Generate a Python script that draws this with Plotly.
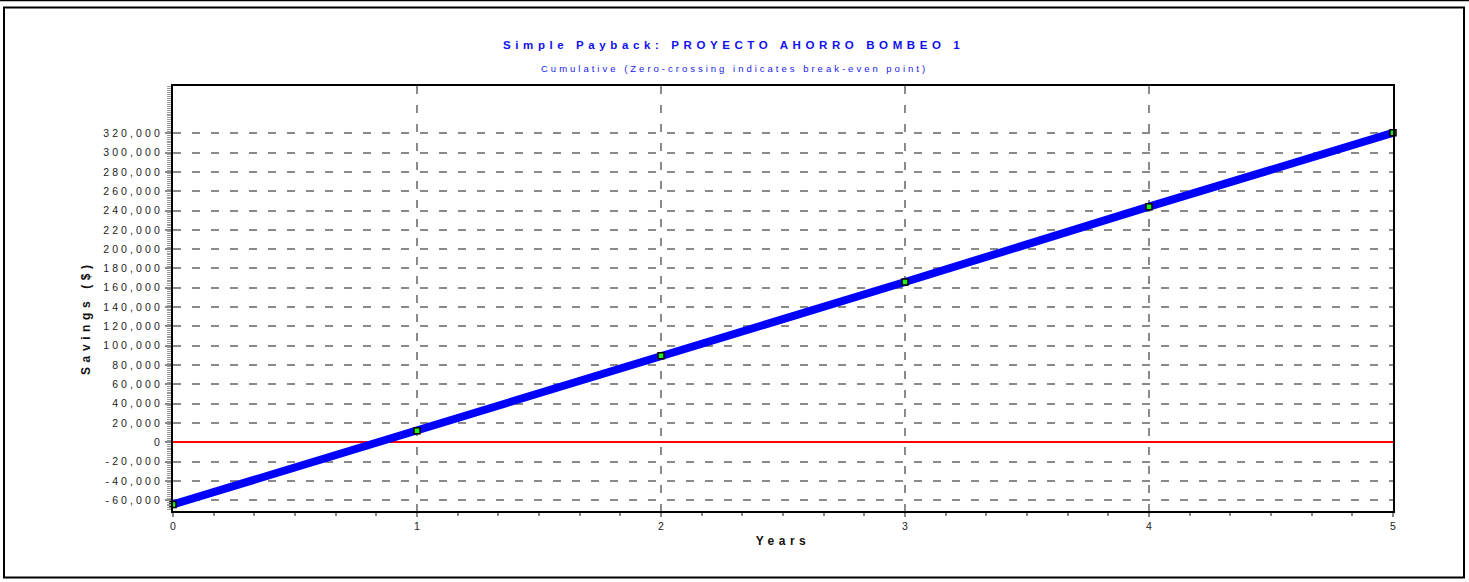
import plotly.graph_objects as go

# Cumulative simple-payback data
years = [0, 1, 2, 3, 4, 5]
cumulative_savings = [-64500, 12000, 89500, 166000, 244000, 320500]

y_tick_values = list(range(-60000, 320001, 20000))
y_tick_labels = [f"{v:,}" for v in y_tick_values]
x_tick_values = [0, 1, 2, 3, 4, 5]
x_tick_labels = ["0", "1", "2", "3", "4", "5"]

title_text = "Simple Payback: PROYECTO AHORRO BOMBEO 1"
subtitle_text = "Cumulative (Zero-crossing indicates break-even point)"
x_title = "Years"
y_title = "Savings ($)"

W, H = 1469, 582
L, R, T, B = 173, 76, 86, 71
PW, PH = W - L - R, H - T - B


def px_x(px):
    return (px - L) / PW


def px_y(py):
    return (H - B - py) / PH


def spaced(text, ls):
    return f'<span style="letter-spacing:{ls}px">{text}</span>'


FONT = "Liberation Sans, Arial, sans-serif"

fig = go.Figure()

fig.add_trace(go.Scatter(
    x=years, y=cumulative_savings,
    mode="lines+markers",
    line=dict(color="#0000ff", width=8),
    marker=dict(symbol="square", size=6, color="#22ee22",
                line=dict(color="#000000", width=1.5)),
    cliponaxis=False,
    showlegend=False, hoverinfo="x+y",
))

grid_dash = "8px,11px"

fig.update_layout(
    width=W, height=H,
    margin=dict(l=L, r=R, t=T, b=B),
    paper_bgcolor="white", plot_bgcolor="white",
    font=dict(family=FONT, size=10, color="#222222"),
    xaxis=dict(
        range=[0, 5],
        tickvals=x_tick_values, ticktext=x_tick_labels,
        showgrid=True, gridcolor="#8a8a8a", gridwidth=2, griddash=grid_dash,
        zeroline=False,
        showline=True, linecolor="#000000", linewidth=2, mirror=True,
        ticks="outside", ticklen=4, tickcolor="#8a8a8a", tickwidth=1.5,
        tickfont=dict(size=10.5, color="#222222"),
        minor=dict(dtick=1 / 6, ticks="outside", ticklen=3, tickcolor="#8a8a8a",
                   showgrid=False),
        title=dict(text=spaced(f"<b>{x_title}</b>", 4.5), font=dict(size=12, color="#111111"),
                   standoff=6),
    ),
    yaxis=dict(
        range=[-71200, 369000],
        tickvals=y_tick_values,
        ticktext=[spaced(t, 3.1) for t in y_tick_labels],
        showgrid=True, gridcolor="#8a8a8a", gridwidth=2, griddash=grid_dash,
        zeroline=True, zerolinecolor="#ff0000", zerolinewidth=2,
        showline=True, linecolor="#000000", linewidth=2, mirror=True,
        ticks="outside", ticklen=6, tickcolor="#8a8a8a", tickwidth=1.5,
        tickfont=dict(size=10.5, color="#222222"),
        minor=dict(dtick=2000, ticks="outside", ticklen=4, tickcolor="#9a9a9a",
                   tickwidth=1, showgrid=False),
    ),
    annotations=[
        dict(text=spaced(f"<b>{title_text}</b>", 4.6), x=px_x(733), y=px_y(45),
             xref="paper", yref="paper", showarrow=False,
             xanchor="center", yanchor="middle",
             font=dict(size=11.5, color="#1010ee", family=FONT)),
        dict(text=spaced(subtitle_text, 3.0), x=px_x(734), y=px_y(69),
             xref="paper", yref="paper", showarrow=False,
             xanchor="center", yanchor="middle",
             font=dict(size=9.5, color="#2020ee", family=FONT)),
        dict(text=spaced(f"<b>{y_title}</b>", 4.6), x=px_x(86), y=px_y(318),
             xref="paper", yref="paper", showarrow=False, textangle=-90,
             xanchor="center", yanchor="middle",
             font=dict(size=12, color="#111111", family=FONT)),
    ],
    shapes=[
        dict(type="line", xref="paper", yref="paper",
             x0=px_x(0), x1=px_x(W), y0=px_y(0.5), y1=px_y(0.5),
             line=dict(color="#000000", width=1.5)),
        dict(type="rect", xref="paper", yref="paper",
             x0=px_x(4), x1=px_x(1464), y0=px_y(7.5), y1=px_y(577.5),
             line=dict(color="#000000", width=2)),
    ],
)

fig.write_html("out.html")
